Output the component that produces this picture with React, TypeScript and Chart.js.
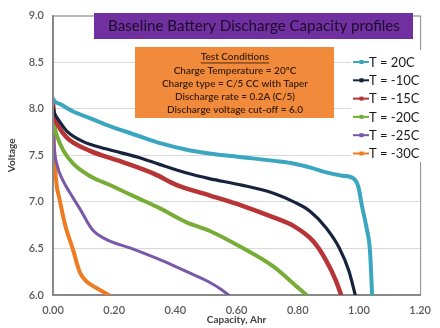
import React, { useEffect, useRef } from "react";
import { Chart, registerables } from "chart.js";

Chart.register(...registerables);

// ---- data (Capacity Ahr vs Voltage) ----
const seriesLabels = ["T = 20C", "T = -10C", "T = -15C", "T = -20C", "T = -25C", "T = -30C"];
const seriesColors = ["#3AA6C0", "#17223F", "#B73536", "#77AD36", "#7A58A8", "#EE7A22"];
const seriesWidths = [4, 3.2, 4.5, 4, 3, 4];

const cap20 = [0, 0.005, 0.023, 0.066, 0.12, 0.172, 0.278, 0.35, 0.437, 0.511, 0.617, 0.723, 0.79, 0.85, 0.89, 0.946, 0.983, 0.999, 1.009, 1.025, 1.036, 1.041, 1.043];
const volt20 = [8.11, 8.08, 8.05, 7.97, 7.9, 7.83, 7.71, 7.63, 7.56, 7.52, 7.48, 7.44, 7.41, 7.36, 7.32, 7.28, 7.25, 7.15, 6.97, 6.72, 6.48, 6.15, 6.0];

const capM10 = [0, 0.003, 0.008, 0.018, 0.045, 0.097, 0.172, 0.278, 0.35, 0.437, 0.511, 0.617, 0.723, 0.787, 0.84, 0.893, 0.935, 0.967, 0.988];
const voltM10 = [8.02, 7.97, 7.93, 7.88, 7.76, 7.65, 7.57, 7.48, 7.4, 7.31, 7.25, 7.18, 7.09, 7.0, 6.9, 6.72, 6.51, 6.26, 6.0];

const capM15 = [0, 0.003, 0.008, 0.018, 0.045, 0.119, 0.225, 0.331, 0.405, 0.511, 0.617, 0.723, 0.787, 0.85, 0.893, 0.924, 0.942];
const voltM15 = [8.05, 7.95, 7.88, 7.81, 7.69, 7.55, 7.43, 7.3, 7.18, 7.07, 6.96, 6.83, 6.74, 6.58, 6.37, 6.16, 6.0];

const capM20 = [0, 0.003, 0.013, 0.034, 0.066, 0.119, 0.193, 0.278, 0.35, 0.437, 0.511, 0.617, 0.723, 0.797, 0.829];
const voltM20 = [7.98, 7.85, 7.71, 7.55, 7.41, 7.28, 7.17, 7.04, 6.93, 6.78, 6.69, 6.51, 6.3, 6.09, 6.0];

const capM25 = [0, 0.004, 0.013, 0.034, 0.055, 0.087, 0.129, 0.172, 0.256, 0.363, 0.437, 0.51, 0.55, 0.574];
const voltM25 = [7.95, 7.6, 7.4, 7.22, 7.1, 6.93, 6.7, 6.6, 6.5, 6.36, 6.25, 6.14, 6.06, 6.0];

const capM30 = [0, 0.002, 0.006, 0.013, 0.018, 0.039, 0.066, 0.087, 0.105, 0.129, 0.155, 0.182];
const voltM30 = [8.07, 7.7, 7.4, 7.15, 7.08, 6.76, 6.48, 6.25, 6.16, 6.1, 6.05, 6.0];

const seriesCaps = [cap20, capM10, capM15, capM20, capM25, capM30];
const seriesVolts = [volt20, voltM10, voltM15, voltM20, voltM25, voltM30];

const chartTitle = "Baseline Battery Discharge Capacity profiles";
const conditionsHeader = "Test Conditions";
const conditionsLines = [
  "Charge Temperature = 20ºC",
  "Charge type = C/5 CC with Taper",
  "Discharge rate = 0.2A (C/5)",
  "Discharge voltage cut-off = 6.0",
];
const xTitle = "Capacity, Ahr";
const yTitle = "Voltage";

const FONT = "Lato, 'Open Sans', sans-serif";

const overlayPlugin = {
  id: "overlay",
  afterDraw(chart: any) {
    const ctx = chart.ctx as CanvasRenderingContext2D;
    const { left, top, right, bottom } = chart.chartArea;
    ctx.save();
    // plot border
    ctx.strokeStyle = "#8a8a8a";
    ctx.lineWidth = 1;
    ctx.strokeRect(left + 0.5, top + 0.5, right - left, bottom - top);

    // title box
    ctx.fillStyle = "#7030A0";
    ctx.fillRect(94, 13, 319, 26);
    let fs = 16;
    ctx.font = `${fs}px ${FONT}`;
    let w = ctx.measureText(chartTitle).width;
    fs = Math.min(17, (fs * 292) / w);
    ctx.font = `${fs}px ${FONT}`;
    ctx.fillStyle = "#1c0b2b";
    ctx.textAlign = "center";
    ctx.textBaseline = "middle";
    ctx.fillText(chartTitle, 254, 26.5);

    // conditions box
    ctx.fillStyle = "#F28A3C";
    ctx.fillRect(135, 47, 199, 71);
    ctx.fillStyle = "#3b210c";
    let cfs = 11;
    ctx.font = `600 ${cfs}px ${FONT}`;
    const lw = ctx.measureText(conditionsLines[3]).width;
    cfs = Math.min(12, (cfs * 136) / lw);
    ctx.font = `600 ${cfs}px ${FONT}`;
    const cx = 235;
    ctx.fillText(conditionsHeader, cx, 57);
    const hw = ctx.measureText(conditionsHeader).width;
    ctx.fillRect(cx - hw / 2, 62.5, hw, 0.9);
    conditionsLines.forEach((t, i) => {
      ctx.fillText(t, cx, 70.5 + i * 13);
    });

    // legend
    ctx.fillStyle = "#ffffff";
    ctx.fillRect(351, 50, 72, 112);
    const ys = [62, 80.3, 98.6, 116.9, 135.2, 153.5];
    ctx.font = `13px ${FONT}`;
    ctx.textAlign = "left";
    seriesLabels.forEach((lab, i) => {
      const y = ys[i];
      ctx.strokeStyle = seriesColors[i];
      ctx.lineWidth = 2;
      ctx.beginPath();
      ctx.moveTo(353, y);
      ctx.lineTo(369, y);
      ctx.stroke();
      ctx.fillStyle = seriesColors[i];
      ctx.fillRect(359.5, y - 2, 4, 4);
      ctx.fillStyle = "#1a1a1a";
      ctx.fillText(lab, 369, y + 0.5);
    });
    ctx.restore();
  },
};

export default function App() {
  const ref = useRef<HTMLCanvasElement | null>(null);
  useEffect(() => {
    if (!ref.current) return;
    const datasets = seriesLabels.map((lab, i) => ({
      label: lab,
      data: seriesCaps[i].map((x, j) => ({ x, y: seriesVolts[i][j] })),
      borderColor: seriesColors[i],
      backgroundColor: seriesColors[i],
      borderWidth: seriesWidths[i],
      showLine: true,
      pointRadius: 0,
      cubicInterpolationMode: "monotone" as const,
      borderCapStyle: "round" as const,
      borderJoinStyle: "round" as const,
    }));
    const chart = new Chart(ref.current, {
      type: "scatter",
      data: { datasets },
      options: {
        animation: false,
        responsive: false,
        maintainAspectRatio: false,
        layout: { padding: { left: 0, top: 11, right: 10, bottom: 0 } },
        plugins: { legend: { display: false }, tooltip: { enabled: false } },
        scales: {
          x: {
            type: "linear",
            min: 0,
            max: 1.2,
            ticks: {
              stepSize: 0.2,
              padding: 9,
              color: "#595959",
              font: { family: FONT, size: 11, weight: "600" },
              callback: (v: any) => Number(v).toFixed(2),
            },
            grid: { display: false, drawTicks: false },
            border: { display: true, color: "#868686", width: 1.5 },
            title: {
              display: true,
              text: xTitle,
              color: "#404040",
              font: { family: FONT, size: 10, weight: "bold" },
              padding: { top: 0, bottom: 2 },
            },
            afterFit: (s: any) => {
              s.height = 33;
            },
          },
          y: {
            type: "linear",
            min: 6,
            max: 9,
            ticks: {
              stepSize: 0.5,
              padding: 9,
              color: "#595959",
              font: { family: FONT, size: 11, weight: "600" },
              callback: (v: any) => Number(v).toFixed(1),
            },
            grid: { color: "#d9d9d9", drawTicks: false, lineWidth: 1 },
            border: { display: true, color: "#868686", width: 1.5 },
            title: {
              display: true,
              text: yTitle,
              color: "#404040",
              font: { family: FONT, size: 10, weight: "bold" },
              padding: { top: 6, bottom: 0 },
            },
            afterFit: (s: any) => {
              s.width = 53;
            },
          },
        },
      },
      plugins: [overlayPlugin],
    });
    return () => chart.destroy();
  }, []);
  return (
    <div style={{ position: "fixed", left: 0, top: 0, width: 440, height: 328, background: "#fff" }}>
      <canvas ref={ref} width={440} height={328} style={{ display: "block" }} />
    </div>
  );
}
